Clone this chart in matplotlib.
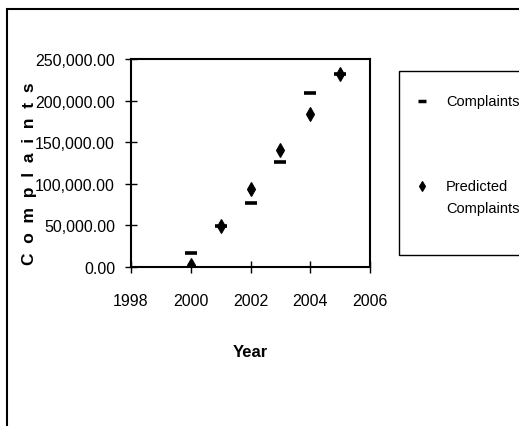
import matplotlib.pyplot as plt
from matplotlib import font_manager
from matplotlib.patches import Rectangle
from matplotlib.lines import Line2D
from matplotlib.ticker import FuncFormatter

years = [2000, 2001, 2002, 2003, 2004, 2005]
complaints = [17000, 49500, 76500, 126000, 209000, 232000]
predicted = [2500, 49500, 94000, 140500, 184000, 232000]

names = {f.name for f in font_manager.fontManager.ttflist}
font = 'Liberation Sans Narrow' if 'Liberation Sans Narrow' in names else 'Liberation Sans'
plt.rcParams['font.family'] = font
plt.rcParams['font.size'] = 11.5

W, H = 519, 427
fig = plt.figure(figsize=(W / 100, H / 100), dpi=100)
ax = fig.add_axes([131 / W, 1 - 268 / H, (370 - 131) / W, (268 - 60) / H])

ax.plot(years, complaints, linestyle='none', marker='_', markersize=9,
        markeredgewidth=2.6, color='black')
ax.plot(years, predicted, linestyle='none', marker='d', markersize=7,
        markeredgewidth=0.8, color='black')

ax.set_xlim(1998, 2006)
ax.set_ylim(0, 250000)
ax.set_xticks(range(1998, 2007, 2))
ax.set_yticks(range(0, 250001, 50000))
ax.yaxis.set_major_formatter(FuncFormatter(lambda v, p: f'{v:,.2f}'))
ax.tick_params(direction='inout', length=9, width=1, pad=7)
ax.tick_params(axis='x', pad=14)
for s in ax.spines.values():
    s.set_linewidth(1.5)

ax.set_xlabel('Year', fontweight='bold', fontsize=12, labelpad=26)
fig.text(30 / W, 1 - 174 / H, 'C  o  m  p  l  a  i  n  t  s', rotation=90,
         fontweight='bold', fontsize=12.5, ha='center', va='center')

# outer chart frame
fig.add_artist(Rectangle((7 / W, -0.05), 1.2, 1 - 10 / H + 0.05,
                         transform=fig.transFigure, fill=False,
                         edgecolor='black', linewidth=1.5))

# legend box
fig.add_artist(Rectangle((399 / W, 1 - 256 / H), 0.5, (256 - 72) / H,
                         transform=fig.transFigure, fill=False,
                         edgecolor='black', linewidth=1))
fig.add_artist(Line2D([422 / W], [1 - 102 / H], marker='_', markersize=6,
                      markeredgewidth=2.5, color='black',
                      transform=fig.transFigure))
fig.add_artist(Line2D([422 / W], [1 - 187 / H], marker='d', markersize=5.5,
                      markeredgewidth=0.8, color='black',
                      transform=fig.transFigure))
fig.text(446 / W, 1 - 102 / H, 'Complaints', va='center', fontsize=10.5)
fig.text(446 / W, 1 - 187 / H, 'Predicted', va='center', fontsize=10.5)
fig.text(446 / W, 1 - 209 / H, 'Complaints', va='center', fontsize=10.5)

fig.savefig('out.png', dpi=100)
